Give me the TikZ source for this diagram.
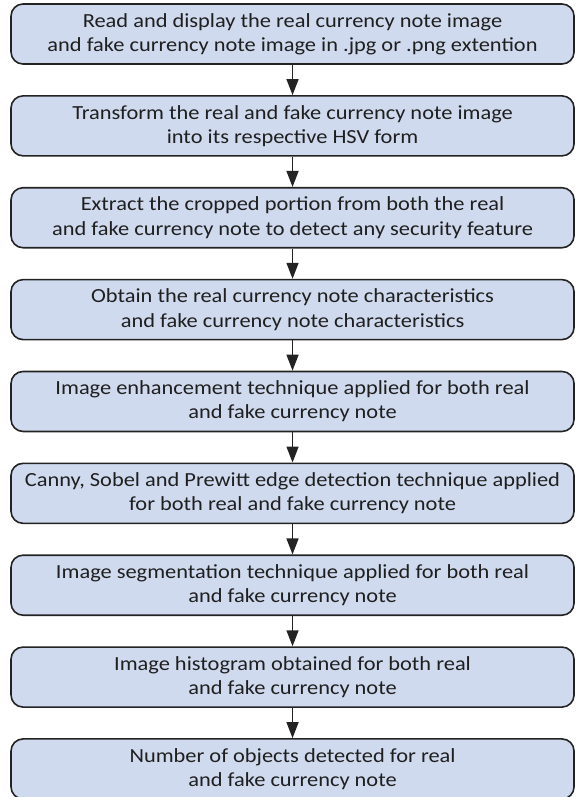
\documentclass[tikz,border=0pt]{standalone}
\usepackage{fontspec}
\setmainfont[FakeStretch=1.12]{Carlito}
\usepackage{xcolor}
\usepackage{tikz}
\usetikzlibrary{positioning,arrows.meta}

\definecolor{stepfill}{RGB}{207,218,238}
\definecolor{stepline}{RGB}{35,35,35}

\begin{document}
\begin{tikzpicture}[
    every node/.style={rectangle, draw=stepline, fill=stepfill, line width=1.2pt,
        rounded corners=9pt, align=center, minimum width=422.25pt, minimum height=45pt,
        inner sep=3pt, font=\fontsize{15}{18.2}\selectfont, text=black!88},
    node distance=22.7pt,
    flow/.style={-{Triangle[length=12pt,width=9pt]}, line width=1.1pt, draw=stepline}
]
\useasboundingbox (0,0) rectangle (432.75pt,-597.75pt);
\node (read) at (219.4pt,-25.5pt)
    {Read and display the real currency note image\\and fake currency note image in .jpg or .png extention};
\node[below=of read] (transform)
    {Transform the real and fake currency note image\\into its respective HSV form};
\node[below=of transform] (extract)
    {Extract the cropped portion from both the real\\and fake currency note to detect any security feature};
\node[below=of extract] (obtain)
    {Obtain the real currency note characteristics\\and fake currency note characteristics};
\node[below=of obtain] (enhance)
    {Image enhancement technique applied for both real\\and fake currency note};
\node[below=of enhance] (edge)
    {Canny, Sobel and Prewitt edge detection technique applied\\for both real and fake currency note};
\node[below=of edge] (segment)
    {Image segmentation technique applied for both real\\and fake currency note};
\node[below=of segment] (histo)
    {Image histogram obtained for both real\\and fake currency note};
\node[below=of histo] (objects)
    {Number of objects detected for real\\and fake currency note};

% arrows between the steps
\draw[flow] (read) -- (transform);
\draw[flow] (transform) -- (extract);
\draw[flow] (extract) -- (obtain);
\draw[flow] (obtain) -- (enhance);
\draw[flow] (enhance) -- (edge);
\draw[flow] (edge) -- (segment);
\draw[flow] (segment) -- (histo);
\draw[flow] (histo) -- (objects);
\end{tikzpicture}
\end{document}
